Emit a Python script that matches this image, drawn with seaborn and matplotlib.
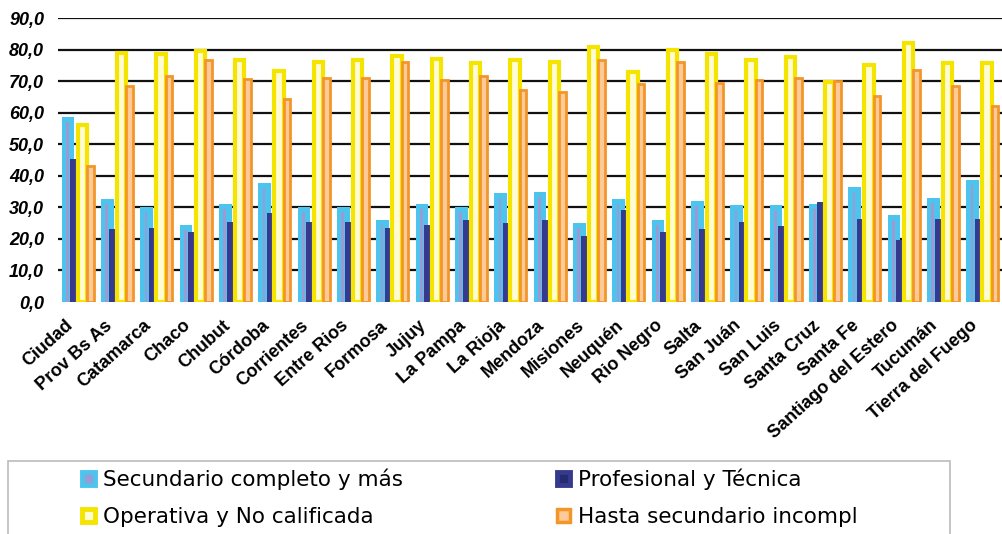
import numpy as np
import pandas as pd
import seaborn as sns
import matplotlib
matplotlib.use("Agg")
import matplotlib.pyplot as plt
import matplotlib.transforms as mtransforms
from matplotlib.patches import Rectangle, Patch

provincias = ["Ciudad", "Prov Bs As", "Catamarca", "Chaco", "Chubut", "Córdoba",
              "Corrientes", "Entre Rios", "Formosa", "Jujuy", "La Pampa", "La Rioja",
              "Mendoza", "Misiones", "Neuquén", "Rio Negro", "Salta", "San Juán",
              "San Luis", "Santa Cruz", "Santa Fe", "Santiago del Estero", "Tucumán",
              "Tierra del Fuego"]

secundario = [58.7, 32.7, 30.2, 24.4, 31.2, 37.6, 30.2, 30.2, 25.9, 31.2, 30.2, 34.6,
              34.9, 24.9, 32.6, 25.9, 32.1, 30.7, 30.7, 31.1, 36.5, 27.7, 33.0, 38.8]
profesional = [45.2, 23.0, 23.5, 22.1, 25.4, 28.3, 25.3, 25.3, 23.4, 24.4, 25.9, 24.9,
               25.9, 21.0, 29.2, 22.1, 23.0, 25.4, 24.0, 31.8, 26.4, 19.6, 26.4, 26.4]
operativa = [56.2, 78.9, 78.6, 79.4, 76.6, 73.2, 76.1, 76.6, 78.1, 77.0, 75.6, 76.6,
             76.1, 80.9, 72.8, 80.0, 78.6, 76.6, 77.5, 69.8, 75.1, 82.0, 75.6, 75.6]
hasta_sec = [43.0, 68.6, 71.5, 76.8, 70.6, 64.4, 71.0, 70.9, 76.0, 70.2, 71.5, 67.2,
             66.7, 76.8, 69.1, 76.0, 69.5, 70.5, 70.9, 70.0, 65.2, 73.4, 68.6, 62.2]

series = ["Secundario completo y más", "Profesional y Técnica",
          "Operativa y No calificada", "Hasta secundario incompl"]
y_ticks = [0, 10, 20, 30, 40, 50, 60, 70, 80, 90]

df = pd.concat([
    pd.DataFrame({"prov": provincias, "valor": vals, "serie": name})
    for name, vals in zip(series, [secundario, profesional, operativa, hasta_sec])
], ignore_index=True)

sns.set_style("white")
plt.rcParams.update({"text.color": "black", "xtick.color": "black",
                     "ytick.color": "black", "axes.labelcolor": "black"})

W, H = 1002, 534
fig = plt.figure(figsize=(W / 100, H / 100), dpi=100)
ax = fig.add_axes([58 / W, 1 - 302 / H, 1 - 58 / W, 284 / H])

sns.barplot(data=df, x="prov", y="valor", hue="serie", order=provincias,
            hue_order=series, errorbar=None, width=0.8, dodge=True,
            saturation=1, legend=False, ax=ax)

CYAN, NAVY = "#4CC4EE", "#363A8E"
YEL_E, YEL_F = "#F5E400", "#FFFBD2"
ORA_E, ORA_F = "#F3962A", "#FDCA98"

styles = [
    dict(off=-0.405, w=0.32, face=CYAN, edge="none", lw=0, z=2),
    dict(off=-0.196, w=0.32, face=NAVY, edge="none", lw=0, z=3),
    dict(off=0.000, w=0.24, face=YEL_F, edge=YEL_E, lw=3.0, z=4),
    dict(off=0.235, w=0.17, face=ORA_F, edge=ORA_E, lw=2.0, z=5),
]
stripes = [("#9C9AD2", 0.34, 0.22), ("#262A6E", 0.70, 0.22), None, None]

for i, cont in enumerate(ax.containers):
    st = styles[i]
    for j, bar in enumerate(cont):
        h = bar.get_height()
        bar.set_x(j + st["off"])
        bar.set_width(st["w"])
        bar.set_facecolor(st["face"])
        bar.set_edgecolor(st["edge"])
        bar.set_linewidth(st["lw"])
        bar.set_zorder(st["z"])
        if stripes[i] is not None:
            col, frac, wf = stripes[i]
            x0 = bar.get_x() + bar.get_width() * frac
            ax.add_patch(Rectangle((x0, 0), bar.get_width() * wf, max(h - 1.6, 0),
                                   facecolor=col, edgecolor="none",
                                   zorder=st["z"] + 0.1))

ax.set_xlim(-0.5, len(provincias) - 0.5)
ax.set_ylim(0, 90)
ax.set_yticks(y_ticks)
ax.set_yticklabels([f"{v:.1f}".replace(".", ",") for v in y_ticks],
                   fontsize=13, fontweight="bold", style="italic",
                   family="Liberation Sans", color="black")
ax.tick_params(axis="y", length=0, pad=10)
ax.tick_params(axis="x", length=0, pad=0)
ax.set_xticks(range(len(provincias)))
ax.set_xticklabels(provincias, rotation=42, ha="right", rotation_mode="anchor",
                   fontsize=13, fontweight="bold", family="Liberation Sans",
                   color="black")
offset = mtransforms.ScaledTranslation(-13 / 100, -15 / 100, fig.dpi_scale_trans)
for lab in ax.get_xticklabels():
    lab.set_transform(lab.get_transform() + offset)
ax.set_xlabel("")
ax.set_ylabel("")
for s in ax.spines.values():
    s.set_visible(False)
ax.set_axisbelow(True)
ax.yaxis.grid(True, color="#111111", linewidth=1.6)
ax.xaxis.grid(False)
ax.get_ygridlines()[0].set_visible(False)

# legend frame
fig.patches.append(Rectangle((8 / W, -0.05), 942 / W, 0.05 + (534 - 461) / H,
                             transform=fig.transFigure, facecolor="white",
                             edgecolor="#BBBBBB", linewidth=1.2, zorder=0))

handles = [
    Patch(facecolor="#9C9AD2", edgecolor=CYAN, linewidth=3.5, label=series[0]),
    Patch(facecolor=YEL_F, edgecolor=YEL_E, linewidth=3.5, label=series[2]),
    Patch(facecolor="#262A6E", edgecolor=NAVY, linewidth=3.5, label=series[1]),
    Patch(facecolor=ORA_F, edgecolor=ORA_E, linewidth=2.5, label=series[3]),
]
fig.legend(handles=handles, ncol=2, loc="upper left",
           bbox_to_anchor=(82 / W, 1 - 468.5 / H), frameon=False,
           prop={"family": "DejaVu Sans", "size": 15.5}, labelcolor="black",
           handlelength=0.62, handleheight=0.55, handletextpad=0.35,
           columnspacing=7.15, labelspacing=0.78, borderpad=0.0,
           borderaxespad=0.0)

fig.savefig("out.png", dpi=100)
